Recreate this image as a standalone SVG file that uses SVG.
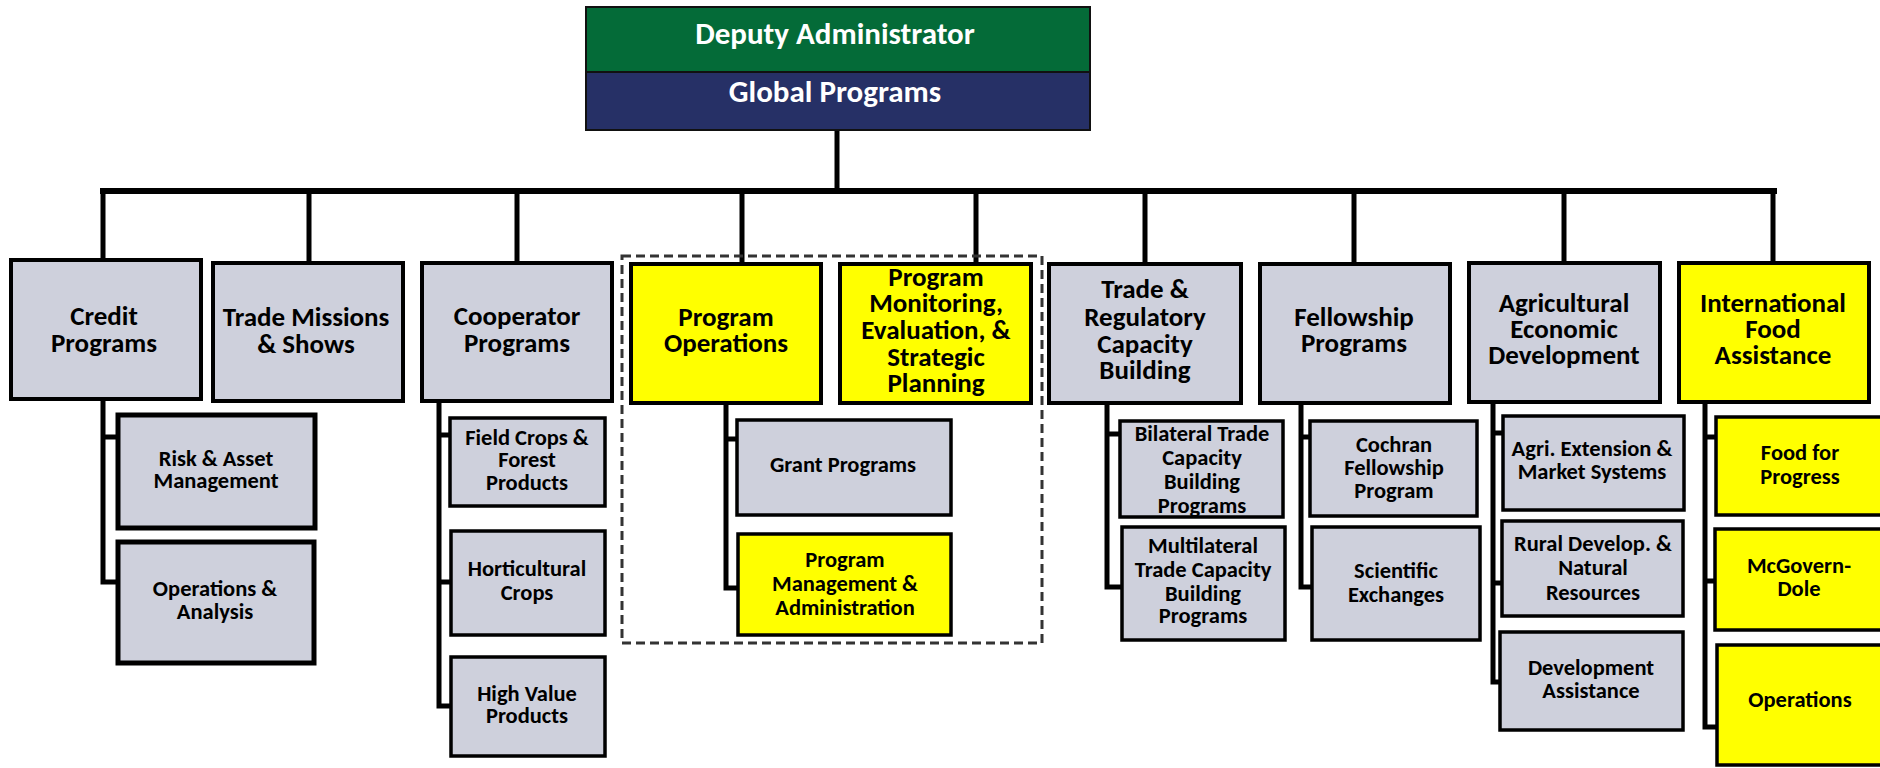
<svg xmlns="http://www.w3.org/2000/svg" width="1880" height="768" viewBox="0 0 1880 768">
<style>
text{font-family:Carlito,Lato,"Liberation Sans",sans-serif;font-weight:bold;text-anchor:middle;fill:#000}
.top{font-size:27px}
.sub{font-size:22.5px}
.hd{font-size:31px;fill:#fff}
.g{fill:#CED0DC;stroke:#000;stroke-width:4}
.y{fill:#FFFF00;stroke:#000;stroke-width:4}
.gs{fill:#CED0DC;stroke:#000;stroke-width:3.5}
.ys{fill:#FFFF00;stroke:#000;stroke-width:3.5}
.gt{fill:#CED0DC;stroke:#000;stroke-width:5}
.ln{fill:none;stroke:#000;stroke-width:5;stroke-linejoin:miter;stroke-linecap:butt}
</style>
<rect width="1880" height="768" fill="#fff"/>
<g id="connectors">
<path class="ln" d="M837,130 V191"/>
<path class="ln" d="M100,191 H1777" style="stroke-width:6"/>
<path class="ln" d="M103,191 V260 M309,191 V263 M517,191 V263 M742,191 V264 M976,191 V264 M1145,191 V264 M1354,191 V264 M1564,191 V263 M1773,191 V263"/>
<path class="ln" d="M103,401 V582 H118 M103,437 H118"/>
<path class="ln" d="M439,403 V706 H451 M439,435 H450 M439,582 H451"/>
<path class="ln" d="M726,405 V588 H738 M726,439 H737"/>
<path class="ln" d="M1107,405 V587 H1122 M1107,434 H1120"/>
<path class="ln" d="M1301,405 V587 H1312 M1301,437 H1310"/>
<path class="ln" d="M1493,404 V682 H1500 M1493,433 H1503 M1493,583 H1502"/>
<path class="ln" d="M1705,404 V727 H1717 M1705,437 H1716 M1705,581 H1715"/>
</g>
<g id="group-program-ops-box">
<rect x="622" y="256" width="420" height="387" fill="none" stroke="#333" stroke-width="3" stroke-dasharray="9,5"/>
</g>
<g id="deputy-administrator">
<rect x="586" y="7" width="504" height="65" fill="#046B38" stroke="#111" stroke-width="2"/>
<rect x="586" y="72" width="504" height="58" fill="#263066" stroke="#111" stroke-width="2"/>
<text class="hd" x="835" y="44">Deputy Administrator</text>
<text class="hd" x="835" y="102">Global Programs</text>
</g>
<g id="credit-programs">
<rect class="g" x="11" y="260" width="190" height="139"/>
<text class="top"><tspan x="104" y="325">Credit</tspan><tspan x="104" y="352">Programs</tspan></text>
</g>
<g id="trade-missions">
<rect class="g" x="213" y="263" width="190" height="138"/>
<text class="top"><tspan x="306" y="326">Trade Missions</tspan><tspan x="306" y="353">&amp; Shows</tspan></text>
</g>
<g id="cooperator-programs">
<rect class="g" x="422" y="263" width="190" height="138"/>
<text class="top"><tspan x="517" y="325">Cooperator</tspan><tspan x="517" y="352">Programs</tspan></text>
</g>
<g id="program-operations">
<rect class="y" x="631" y="264" width="190" height="139"/>
<text class="top"><tspan x="726" y="326">Program</tspan><tspan x="726" y="352">Operations</tspan></text>
</g>
<g id="program-monitoring">
<rect class="y" x="840" y="264" width="191" height="139"/>
<text class="top"><tspan x="936" y="286">Program</tspan><tspan x="936" y="312">Monitoring,</tspan><tspan x="936" y="339">Evaluation, &amp;</tspan><tspan x="936" y="366">Strategic</tspan><tspan x="936" y="392">Planning</tspan></text>
</g>
<g id="trade-regulatory">
<rect class="g" x="1049" y="264" width="192" height="139"/>
<text class="top"><tspan x="1145" y="298">Trade &amp;</tspan><tspan x="1145" y="326">Regulatory</tspan><tspan x="1145" y="353">Capacity</tspan><tspan x="1145" y="379">Building</tspan></text>
</g>
<g id="fellowship-programs">
<rect class="g" x="1260" y="264" width="190" height="139"/>
<text class="top"><tspan x="1354" y="326">Fellowship</tspan><tspan x="1354" y="352">Programs</tspan></text>
</g>
<g id="agricultural-economic-development">
<rect class="g" x="1469" y="263" width="191" height="139"/>
<text class="top"><tspan x="1564" y="312">Agricultural</tspan><tspan x="1564" y="338">Economic</tspan><tspan x="1564" y="364">Development</tspan></text>
</g>
<g id="international-food-assistance">
<rect class="y" x="1679" y="263" width="190" height="139"/>
<text class="top"><tspan x="1773" y="312">International</tspan><tspan x="1773" y="338">Food</tspan><tspan x="1773" y="364">Assistance</tspan></text>
</g>
<g id="risk-asset">
<rect class="gt" x="118" y="415" width="197" height="113"/>
<text class="sub"><tspan x="216" y="466">Risk &amp; Asset</tspan><tspan x="216" y="488">Management</tspan></text>
</g>
<g id="operations-analysis">
<rect class="gt" x="118" y="542" width="196" height="121"/>
<text class="sub"><tspan x="215" y="596">Operations &amp;</tspan><tspan x="215" y="619">Analysis</tspan></text>
</g>
<g id="field-crops">
<rect class="gs" x="450" y="418" width="155" height="88"/>
<text class="sub"><tspan x="527" y="445">Field Crops &amp;</tspan><tspan x="527" y="467">Forest</tspan><tspan x="527" y="490">Products</tspan></text>
</g>
<g id="horticultural-crops">
<rect class="gs" x="451" y="531" width="154" height="104"/>
<text class="sub"><tspan x="527" y="576">Horticultural</tspan><tspan x="527" y="600">Crops</tspan></text>
</g>
<g id="high-value-products">
<rect class="gs" x="451" y="657" width="154" height="99"/>
<text class="sub"><tspan x="527" y="701">High Value</tspan><tspan x="527" y="723">Products</tspan></text>
</g>
<g id="grant-programs">
<rect class="gs" x="737" y="420" width="214" height="95"/>
<text class="sub" x="843" y="472">Grant Programs</text>
</g>
<g id="program-management">
<rect class="ys" x="738" y="534" width="213" height="101"/>
<text class="sub"><tspan x="845" y="567">Program</tspan><tspan x="845" y="591">Management &amp;</tspan><tspan x="845" y="615">Administration</tspan></text>
</g>
<g id="bilateral-trade">
<rect class="gs" x="1120" y="421" width="163" height="96"/>
<text class="sub"><tspan x="1202" y="441">Bilateral Trade</tspan><tspan x="1202" y="465">Capacity</tspan><tspan x="1202" y="489">Building</tspan><tspan x="1202" y="513">Programs</tspan></text>
</g>
<g id="multilateral-trade">
<rect class="gs" x="1122" y="527" width="163" height="113"/>
<text class="sub"><tspan x="1203" y="553">Multilateral</tspan><tspan x="1203" y="577">Trade Capacity</tspan><tspan x="1203" y="601">Building</tspan><tspan x="1203" y="623">Programs</tspan></text>
</g>
<g id="cochran-fellowship">
<rect class="gs" x="1310" y="421" width="167" height="95"/>
<text class="sub"><tspan x="1394" y="452">Cochran</tspan><tspan x="1394" y="475">Fellowship</tspan><tspan x="1394" y="498">Program</tspan></text>
</g>
<g id="scientific-exchanges">
<rect class="gs" x="1312" y="527" width="168" height="113"/>
<text class="sub"><tspan x="1396" y="578">Scientific</tspan><tspan x="1396" y="602">Exchanges</tspan></text>
</g>
<g id="agri-extension">
<rect class="gs" x="1503" y="416" width="181" height="94"/>
<text class="sub"><tspan x="1592" y="456">Agri. Extension &amp;</tspan><tspan x="1592" y="479">Market Systems</tspan></text>
</g>
<g id="rural-develop">
<rect class="gs" x="1502" y="521" width="181" height="95"/>
<text class="sub"><tspan x="1593" y="551">Rural Develop. &amp;</tspan><tspan x="1593" y="575">Natural</tspan><tspan x="1593" y="600">Resources</tspan></text>
</g>
<g id="development-assistance">
<rect class="gs" x="1500" y="632" width="183" height="98"/>
<text class="sub"><tspan x="1591" y="675">Development</tspan><tspan x="1591" y="698">Assistance</tspan></text>
</g>
<g id="food-for-progress">
<rect class="ys" x="1716" y="417" width="172" height="98"/>
<text class="sub"><tspan x="1800" y="460">Food for</tspan><tspan x="1800" y="484">Progress</tspan></text>
</g>
<g id="mcgovern-dole">
<rect class="ys" x="1715" y="529" width="172" height="101"/>
<text class="sub"><tspan x="1799" y="573">McGovern-</tspan><tspan x="1799" y="596">Dole</tspan></text>
</g>
<g id="operations">
<rect class="ys" x="1717" y="645" width="172" height="120"/>
<text class="sub" x="1800" y="707">Operations</text>
</g>
</svg>
